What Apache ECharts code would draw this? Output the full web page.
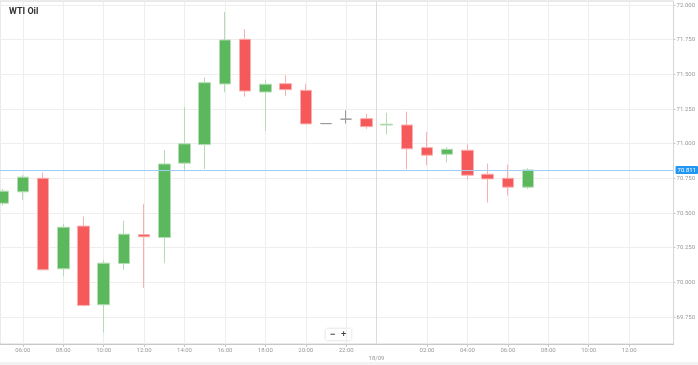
<!DOCTYPE html>
<html><head><meta charset="utf-8">
<script src="https://cdn.jsdelivr.net/npm/echarts@6/dist/echarts.min.js"></script>
<style>html,body{margin:0;padding:0;background:#f2f2f2;}#c{width:698px;height:362px;background:#fff;}</style>
</head><body><div id="c"></div>
<script>
// hour offsets from 17/09 00:00
var hours  = [5,6,7,8,9,10,11,12,13,14,15,16,17,18,19,20,21,22,23,24,25,26,27,28,29,30,31];
var opens  = [70.571,70.653,70.751,70.098,70.406,69.839,70.136,70.345,70.324,70.860,70.994,71.431,71.753,71.373,71.433,71.385,71.145,71.177,71.181,71.135,71.135,70.972,70.924,70.953,70.780,70.751,70.687];
var closes = [70.658,70.759,70.091,70.398,69.834,70.139,70.348,70.329,70.854,70.999,71.440,71.748,71.380,71.429,71.390,71.143,71.145,71.177,71.123,71.141,70.963,70.917,70.960,70.773,70.746,70.687,70.811];
var lows   = [70.554,70.595,70.088,70.043,69.826,69.639,70.091,69.959,70.139,70.799,70.818,71.371,71.339,71.092,71.342,71.140,71.145,71.145,71.107,71.068,70.816,70.845,70.864,70.744,70.576,70.626,70.672];
var highs  = [70.674,70.775,70.792,70.422,70.475,70.163,70.444,70.564,70.955,71.263,71.479,71.950,71.827,71.460,71.494,71.431,71.145,71.241,71.215,71.224,71.231,71.085,70.975,70.996,70.857,70.849,70.823];
var yTicks = [69.75,70.00,70.25,70.50,70.75,71.00,71.25,71.50,71.75,72.00];
var xTicks = [6,8,10,12,14,16,18,20,22,26,28,30,32,34,36];
var dayBreak = 23.5, dayLabel = '18/09';
var lastPrice = 70.811;
var title = 'WTI Oil';

var data = hours.map(function(h,i){return [h,opens[i],closes[i],lows[i],highs[i]];});
var chart = echarts.init(document.getElementById('c'));
chart.setOption({
  animation:false,
  backgroundColor:'#fff',
  title:{text:title,left:9,top:7,padding:0,textStyle:{fontSize:9,fontWeight:'bold',color:'#333',fontFamily:'Roboto'}},
  grid:{left:0,right:21,top:1,bottom:18,show:true,borderColor:'#d6d6d6',borderWidth:1},
  xAxis:{type:'value',min:4.87,max:38.2,
    axisLine:{show:true,lineStyle:{color:'#c8c8c8',width:1}},
    axisTick:{show:true,length:3,customValues:xTicks,lineStyle:{color:'#c8c8c8'}},
    axisLabel:{customValues:xTicks,fontSize:6,color:'#999',margin:3,fontFamily:'Roboto',
      formatter:function(v){var h=Math.round(v)%24;return (h<10?'0':'')+h+':00';}},
    splitLine:{show:true,lineStyle:{color:'#eeeeee',width:1}}},
  yAxis:{type:'value',position:'right',min:69.556,max:72.029,scale:true,
    axisLine:{show:false},
    axisTick:{show:true,length:2,customValues:yTicks,lineStyle:{color:'#c8c8c8'}},
    axisLabel:{customValues:yTicks,fontSize:6,color:'#999',margin:3,fontFamily:'Roboto',
      formatter:function(v){return v.toFixed(3);}},
    splitLine:{show:true,lineStyle:{color:'#eeeeee',width:1}}},
  series:[{
    type:'candlestick',data:data,encode:{x:0,y:[1,2,3,4]},barWidth:12,
    itemStyle:{color:'#5cb85c',color0:'#f65959',borderColor:'#b5dcb5',borderColor0:'#f9b0b0',borderColorDoji:'#9a9a9a',borderWidth:1},
    markLine:{silent:true,symbol:'none',
      data:[
        {xAxis:dayBreak,lineStyle:{color:'#dcdcdc',width:1,type:'solid'},
         label:{show:true,position:'start',formatter:dayLabel,fontSize:6,color:'#999',distance:11,fontFamily:'Roboto'}},
        {yAxis:lastPrice,lineStyle:{color:'#9fcdf3',width:1,type:'solid'},
         label:{show:true,position:'end',formatter:lastPrice.toFixed(3),fontSize:6,color:'#fff',backgroundColor:'#2196f3',padding:[1,2],borderRadius:1,distance:2,fontFamily:'Roboto'}}
      ]}
  }],
  graphic:[{type:'group',left:326,top:329,children:[
    {type:'rect',shape:{x:0,y:0,width:25,height:11,r:1},style:{fill:'#fff',shadowBlur:3,shadowColor:'rgba(0,0,0,0.2)'}},
    {type:'text',x:4,y:1,style:{text:'−',fontSize:9,fill:'#444',fontWeight:'bold'}},
    {type:'text',x:15,y:1,style:{text:'+',fontSize:9,fill:'#444',fontWeight:'bold'}}
  ]}]
});
</script></body></html>
